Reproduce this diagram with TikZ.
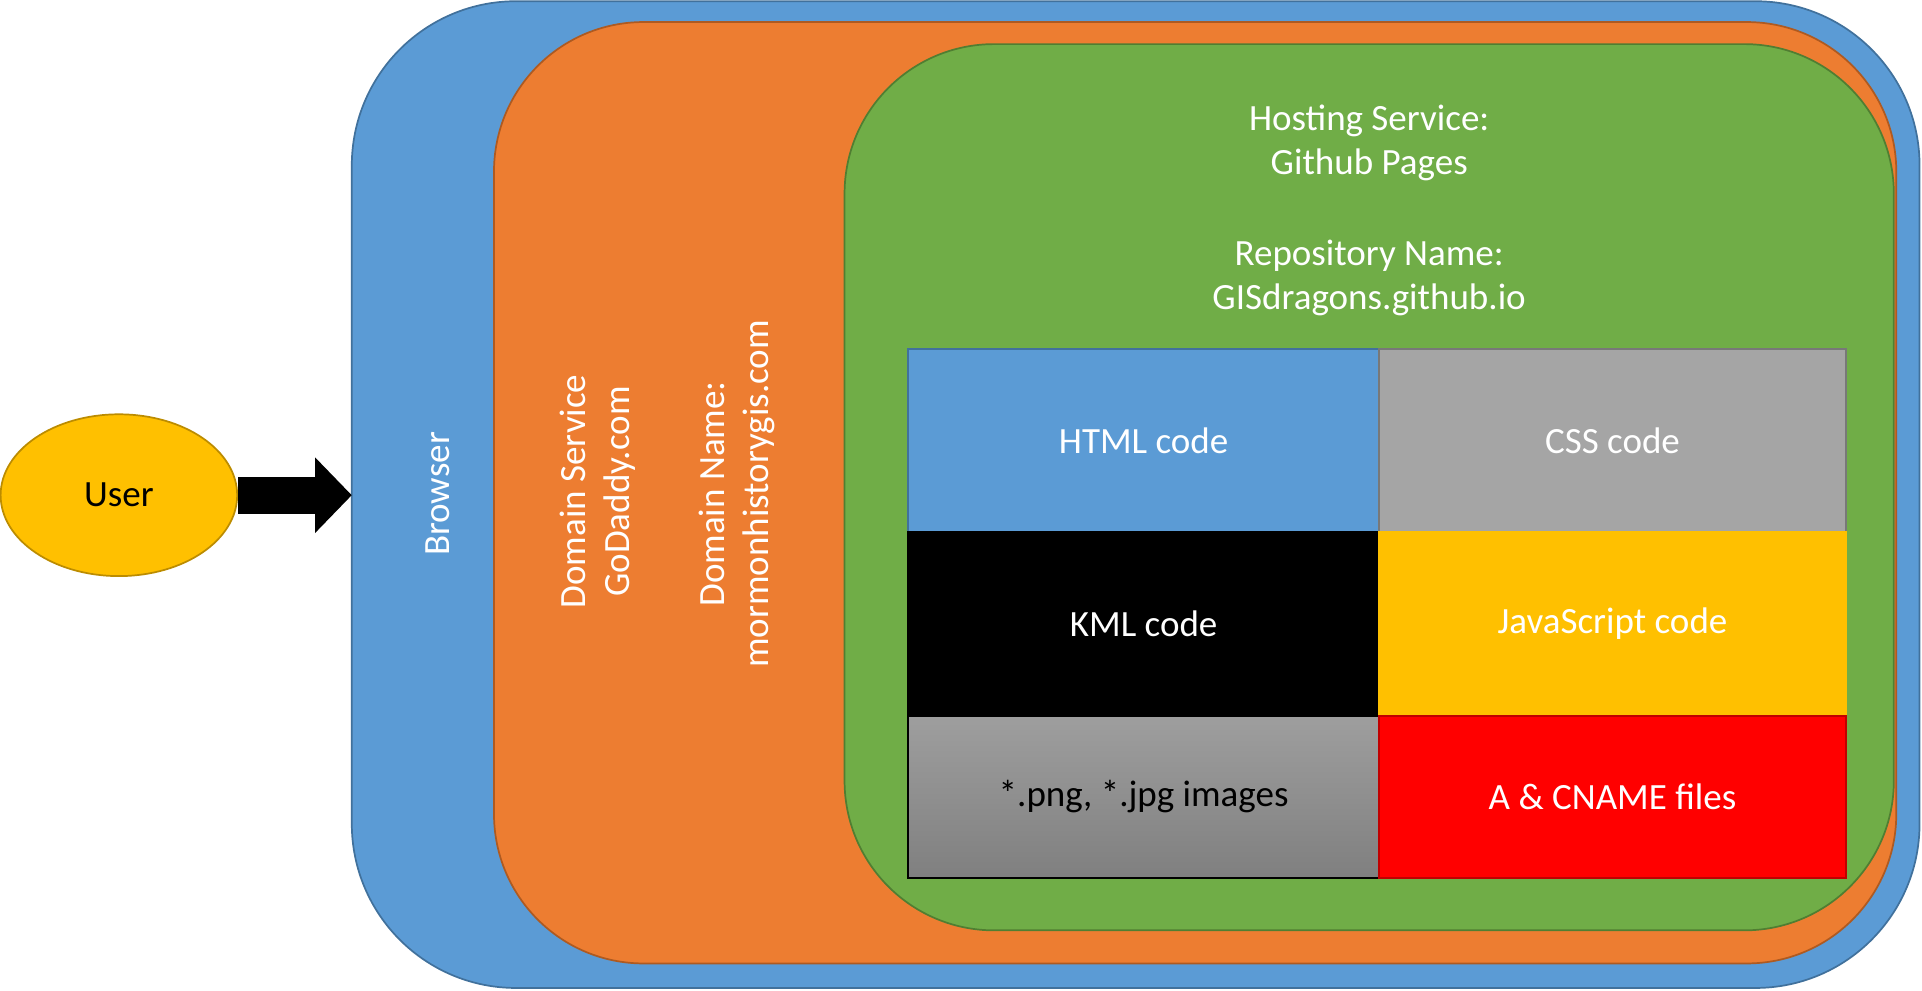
\documentclass[tikz,border=0pt]{standalone}
\usepackage{fontspec}
\setmainfont{Carlito}
\usetikzlibrary{shapes.geometric,arrows.meta,calc}
\definecolor{bblue}{HTML}{5B9BD5}
\definecolor{bblueD}{HTML}{41719C}
\definecolor{borange}{HTML}{ED7D31}
\definecolor{borangeD}{HTML}{AE5A21}
\definecolor{bgreen}{HTML}{70AD47}
\definecolor{bgreenD}{HTML}{507E32}
\definecolor{bgold}{HTML}{FFC000}
\definecolor{bgoldD}{HTML}{BC8C00}
\definecolor{bgray}{HTML}{A5A5A5}
\definecolor{bgrayD}{HTML}{787878}
\definecolor{bred}{HTML}{FF0000}
\definecolor{bredD}{HTML}{C00000}
\tikzset{
  lbl/.style={font=\fontsize{15.1}{18}\selectfont, align=center},
  layer/.style={draw, line width=0.7pt, inner sep=0pt, outer sep=0pt},
  cell/.style={draw, line width=0.7pt, inner sep=0pt, outer sep=0pt, anchor=north west,
    font=\fontsize{15.1}{18}\selectfont, text=white},
}
\begin{document}
\begin{tikzpicture}[x=0.5pt,y=-0.5pt]
\useasboundingbox (0,0) rectangle (1568,808.45);
% layers
\node[layer, fill=bblue, draw=bblueD, rounded corners=67pt,
  minimum width=639.5pt, minimum height=402.5pt] (browser) at (926.5,403.5) {};
\node[layer, fill=borange, draw=borangeD, rounded corners=61pt,
  minimum width=572pt, minimum height=384pt] (domain) at (975,402) {};
\node[layer, fill=bgreen, draw=bgreenD, rounded corners=61pt,
  minimum width=428pt, minimum height=361.5pt] (hosting) at (1117,397.5) {};
% labels of layers
\node[lbl, text=white, rotate=90] (browserlbl) at (357,403) {Browser};
\node[lbl, text=white, rotate=90] (domainsvc) at (488,401) {Domain Service\\GoDaddy.com};
\node[lbl, text=white, rotate=90] (domainname) at (601,403) {Domain Name:\\mormonhistorygis.com};
\node[lbl, text=white] (hostlbl) at (1117,116.5) {Hosting Service:\\Github Pages};
\node[lbl, text=white] (repolbl) at (1117,226.5) {Repository Name:\\GISdragons.github.io};
% cells
\node[cell, fill=bblue, draw=bblueD, minimum width=192pt, minimum height=74.5pt] (html) at (741,285) {HTML code};
\node[cell, fill=bgray, draw=bgrayD, minimum width=190.5pt, minimum height=74.5pt] (css) at (1125,285) {CSS code};
\node[cell, fill=black, draw=black, minimum width=192pt, minimum height=75pt] (kml) at (741,434) {KML code};
\node[cell, fill=bgold, draw=bgold, minimum width=190.5pt, minimum height=75pt] (js) at (1125,434) {JavaScript code};
\node[cell, top color=black!38, bottom color=black!50, draw=black, text=black, minimum width=192pt, minimum height=66pt] (img) at (741,584) {*.png, *.jpg images};
\node[cell, fill=bred, draw=bredD, minimum width=190.5pt, minimum height=66pt] (cname) at (1125,584) {A \& CNAME files};
% user
\node[ellipse, draw=bgoldD, fill=bgold, line width=0.7pt, minimum width=96.5pt, minimum height=66pt,
  font=\fontsize{15.1}{18}\selectfont, inner sep=0pt] (user) at (97,404) {User};
\draw[line width=15pt, -{Triangle[length=15pt,width=30pt]}] (user.east) -- (browser.west |- user.east);
\end{tikzpicture}
\end{document}
